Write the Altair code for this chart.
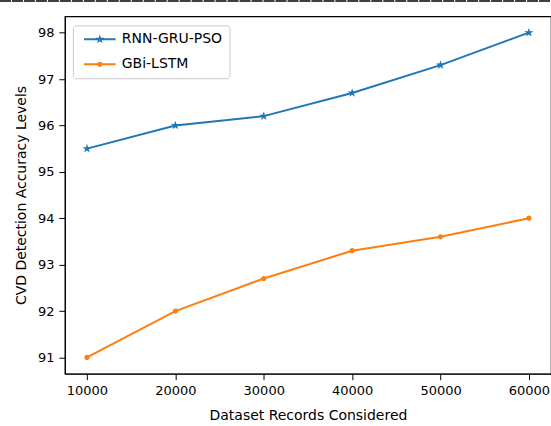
import altair as alt
import pandas as pd

records = [10000, 20000, 30000, 40000, 50000, 60000]
rnn_gru_pso = [95.5, 96.0, 96.2, 96.7, 97.3, 98.0]
gbi_lstm = [91.0, 92.0, 92.7, 93.3, 93.6, 94.0]
series_names = ["RNN-GRU-PSO", "GBi-LSTM"]
x_ticks = [10000, 20000, 30000, 40000, 50000, 60000]
y_ticks = [91, 92, 93, 94, 95, 96, 97, 98]

rows = []
for name, vals in zip(series_names, [rnn_gru_pso, gbi_lstm]):
    for r, v in zip(records, vals):
        rows.append({"records": r, "accuracy": v, "model": name})
df = pd.DataFrame(rows)

BLUE = "#1f77b4"
ORANGE = "#ff7f0e"
BAR = "M-3.3,-0.2H3.3V0.2H-3.3Z"
STAR = ("M0,-1L0.223,-0.307L0.951,-0.309L0.361,0.117L0.588,0.809L0,0.38"
        "L-0.588,0.809L-0.361,0.117L-0.951,-0.309L-0.223,-0.307Z")
DOT = "M0.55,0A0.55,0.55,0,1,1,-0.55,0A0.55,0.55,0,1,1,0.55,0Z"

xs = alt.X("records:Q", title="Dataset Records Considered",
           scale=alt.Scale(domain=[7500, 62500], nice=False, zero=False),
           axis=alt.Axis(values=x_ticks, format="d"))
ys = alt.Y("accuracy:Q", title="CVD Detection Accuracy Levels",
           scale=alt.Scale(domain=[90.65, 98.35], nice=False, zero=False),
           axis=alt.Axis(values=y_ticks, format="d"))

color_scale = alt.Scale(domain=series_names, range=[BLUE, ORANGE])

legend = alt.Legend(
    title=None, orient="none", legendX=8, legendY=9,
    fillColor="white", strokeColor="#cccccc", cornerRadius=3,
    padding=7, symbolOffset=13, labelOffset=15, rowPadding=11,
    symbolSize=92, symbolOpacity=1, symbolStrokeWidth=0,
    labelFontSize=14, labelFont="DejaVu Sans", labelColor="black",
)
color = alt.Color("model:N", scale=color_scale, legend=legend)

base = alt.Chart(df)
lines = base.mark_line(strokeWidth=2).encode(
    x=xs, y=ys, color=color, detail="model:N")
stars = base.transform_filter(alt.datum.model == series_names[0]).mark_point(
    filled=True, opacity=1, size=92, shape=STAR).encode(x=xs, y=ys, color=color)
dots = base.transform_filter(alt.datum.model == series_names[1]).mark_point(
    filled=True, opacity=1, size=92, shape=DOT).encode(x=xs, y=ys, color=color)
legend_layer = base.transform_filter("false").mark_point(filled=True, opacity=1, size=92).encode(
    x=xs, y=ys, color=color,
    shape=alt.Shape("model:N", scale=alt.Scale(domain=series_names, range=[BAR + STAR, BAR + DOT]),
                    legend=legend))

top_line = alt.Chart(pd.DataFrame({"a": [0]})).mark_rule(
    color="black", strokeWidth=1.5, strokeDash=[11, 1]).encode(
    x=alt.value(-65), x2=alt.value(490), y=alt.value(-15.5))

chart = alt.layer(lines, stars, dots, legend_layer, top_line).properties(
    width=487, height=358,
    autosize=alt.AutoSizeParams(type="none"),
    padding={"left": 65, "top": 16, "right": 0, "bottom": 52},
).configure_view(stroke="black", strokeWidth=1.2).configure_axis(
    grid=False, domainColor="black", tickColor="black", tickSize=6,
    labelFont="DejaVu Sans", labelFontSize=13, labelColor="black", labelPadding=5,
    titleFont="DejaVu Sans", titleFontSize=14, titleFontWeight="normal", titleColor="black",
).configure_axisY(titlePadding=9).configure_axisX(titlePadding=11)

chart.save("out.html", embed_options={"renderer": "svg", "actions": False})
